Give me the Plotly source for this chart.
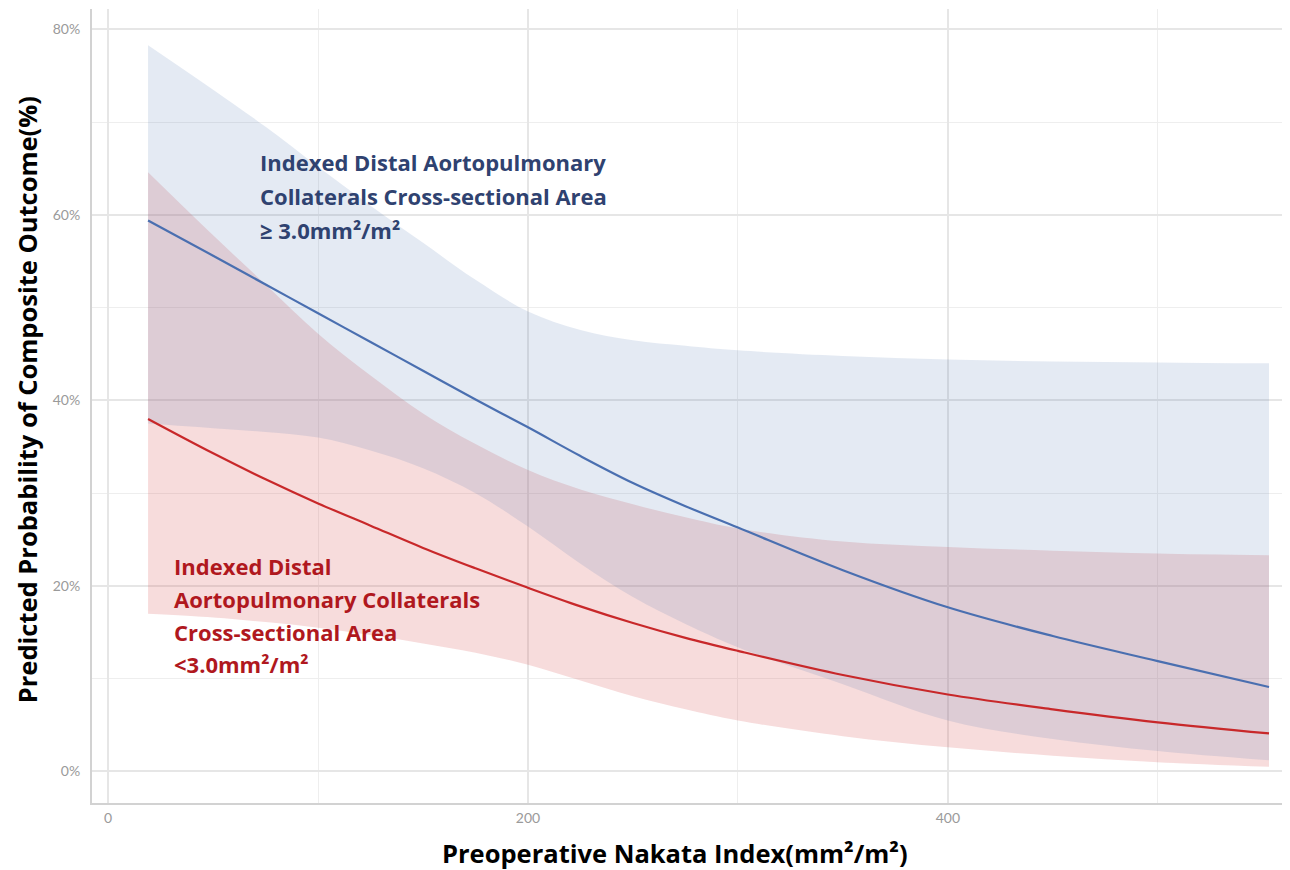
import plotly.graph_objects as go

# Preoperative Nakata Index (mm²/m²)
nakata = [19, 50, 75, 100, 125, 150, 175, 200, 225, 250, 275, 300, 350, 400, 450, 500, 553]

# Indexed distal APC area >= 3.0 mm²/m² (blue)
hi_pred = [59.4, 55.6, 52.5, 49.4, 46.3, 43.2, 40.1, 37.1, 34.0, 31.1, 28.6, 26.3, 21.7, 17.7, 14.6, 11.9, 9.1]
hi_upper = [78.3, 73.5, 69.5, 65.2, 61.0, 57.0, 53.0, 49.6, 47.6, 46.5, 45.9, 45.4, 44.8, 44.4, 44.2, 44.1, 44.0]
hi_lower = [37.5, 37.0, 36.6, 36.0, 34.6, 32.7, 30.0, 26.4, 22.4, 18.8, 15.9, 13.4, 9.4, 5.5, 3.5, 2.2, 1.2]

# Indexed distal APC area < 3.0 mm²/m² (red)
lo_pred = [38.0, 34.3, 31.5, 28.9, 26.5, 24.1, 21.9, 19.8, 17.8, 16.0, 14.4, 13.0, 10.4, 8.3, 6.7, 5.3, 4.1]
lo_upper = [64.6, 57.8, 52.5, 47.2, 42.7, 38.6, 35.3, 32.5, 30.4, 28.8, 27.4, 26.2, 24.8, 24.2, 23.8, 23.5, 23.3]
lo_lower = [17.0, 16.6, 16.1, 15.5, 14.7, 13.8, 12.8, 11.5, 9.8, 8.1, 6.7, 5.5, 3.8, 2.6, 1.7, 1.0, 0.5]

x_ticks = [0, 200, 400]
y_ticks = [0, 20, 40, 60, 80]

blue_label = ["Indexed Distal Aortopulmonary",
              "Collaterals Cross-sectional Area",
              "≥ 3.0mm²/m²"]
red_label = ["Indexed Distal",
             "Aortopulmonary Collaterals",
             "Cross-sectional Area",
             "<3.0mm²/m²"]
x_title = "Preoperative Nakata Index(mm²/m²)"
y_title = "Predicted Probability of Composite Outcome(%)"

BLUE = "#4a6fb0"
RED = "#c8282a"
BLUE_FILL = "rgba(74,111,176,0.15)"
RED_FILL = "rgba(214,80,80,0.20)"

fig = go.Figure()

# red band
fig.add_trace(go.Scatter(x=nakata, y=lo_lower, mode="lines", line=dict(width=0, shape="spline"),
                         showlegend=False, hoverinfo="skip"))
fig.add_trace(go.Scatter(x=nakata, y=lo_upper, mode="lines", line=dict(width=0, shape="spline"),
                         fill="tonexty", fillcolor=RED_FILL, showlegend=False, hoverinfo="skip"))
# blue band
fig.add_trace(go.Scatter(x=nakata, y=hi_lower, mode="lines", line=dict(width=0, shape="spline"),
                         showlegend=False, hoverinfo="skip"))
fig.add_trace(go.Scatter(x=nakata, y=hi_upper, mode="lines", line=dict(width=0, shape="spline"),
                         fill="tonexty", fillcolor=BLUE_FILL, showlegend=False, hoverinfo="skip"))
# lines
fig.add_trace(go.Scatter(x=nakata, y=lo_pred, mode="lines", line=dict(color=RED, width=2.2, shape="spline"),
                         showlegend=False))
fig.add_trace(go.Scatter(x=nakata, y=hi_pred, mode="lines", line=dict(color=BLUE, width=2.2, shape="spline"),
                         showlegend=False))

LABEL_FONT = "'Open Sans', sans-serif"

# page body has an 8px margin: figure coords = screen coords - 8
OFF = 8

# label lines (screen pixel rows converted to data coordinates)
blue_rows = [162, 196, 230]
for txt, py in zip(blue_label, blue_rows):
    fig.add_annotation(x=(258 - 108) / 2.1, y=(771 - py) / 9.275, xref="x", yref="y",
                       text=txt, showarrow=False, xanchor="left", yanchor="middle",
                       font=dict(family=LABEL_FONT, size=22, color="#2f4270", weight="bold"))
red_rows = [566, 599, 632, 664]
for txt, py in zip(red_label, red_rows):
    fig.add_annotation(x=(172 - 108) / 2.1, y=(771 - py) / 9.275, xref="x", yref="y",
                       text=txt, showarrow=False, xanchor="left", yanchor="middle",
                       font=dict(family=LABEL_FONT, size=22, color="#b0181e", weight="bold"))

# axis titles
fig.add_annotation(x=0, y=(802.5 - 400) / 793.5, xref="paper", yref="paper", xshift=-65,
                   text=y_title, textangle=-90, showarrow=False, xanchor="center", yanchor="middle",
                   font=dict(family=LABEL_FONT, size=25.5, color="black", weight="bold"))
fig.add_annotation(x=(675 - 92) / 1198, y=0, xref="paper", yref="paper", yshift=-50,
                   text=x_title, showarrow=False, xanchor="center", yanchor="middle",
                   font=dict(family=LABEL_FONT, size=25.5, color="black", weight="bold"))

fig.update_layout(
    width=1290 - OFF, height=870 - OFF,
    margin=dict(l=92 - OFF, r=0, t=9 - OFF, b=67, autoexpand=False),
    paper_bgcolor="white", plot_bgcolor="white",
    font=dict(family="Lato, 'Open Sans', sans-serif"),
)
fig.update_xaxes(
    range=[-7.7, 563], tickvals=x_ticks, ticktext=[str(v) for v in x_ticks],
    showgrid=True, gridcolor="#e6e6e6", gridwidth=1.5,
    minor=dict(dtick=100, tick0=0, showgrid=True, gridcolor="#eeeeee", gridwidth=1),
    zeroline=False, showline=True, linecolor="#d2d2d2", linewidth=2,
    ticks="", tickfont=dict(size=14, color="#9a9a9a"), ticklabelstandoff=1,
    automargin=False,
)
fig.update_yaxes(
    range=[-3.4, 82.2], tickvals=y_ticks, ticktext=[f"{v}%" for v in y_ticks],
    showgrid=True, gridcolor="#e6e6e6", gridwidth=1.5,
    minor=dict(dtick=10, tick0=0, showgrid=True, gridcolor="#eeeeee", gridwidth=1),
    zeroline=False, showline=True, linecolor="#d2d2d2", linewidth=2,
    ticks="", tickfont=dict(size=14, color="#9a9a9a"), ticklabelstandoff=7,
    automargin=False,
)

fig.write_html("out.html")
